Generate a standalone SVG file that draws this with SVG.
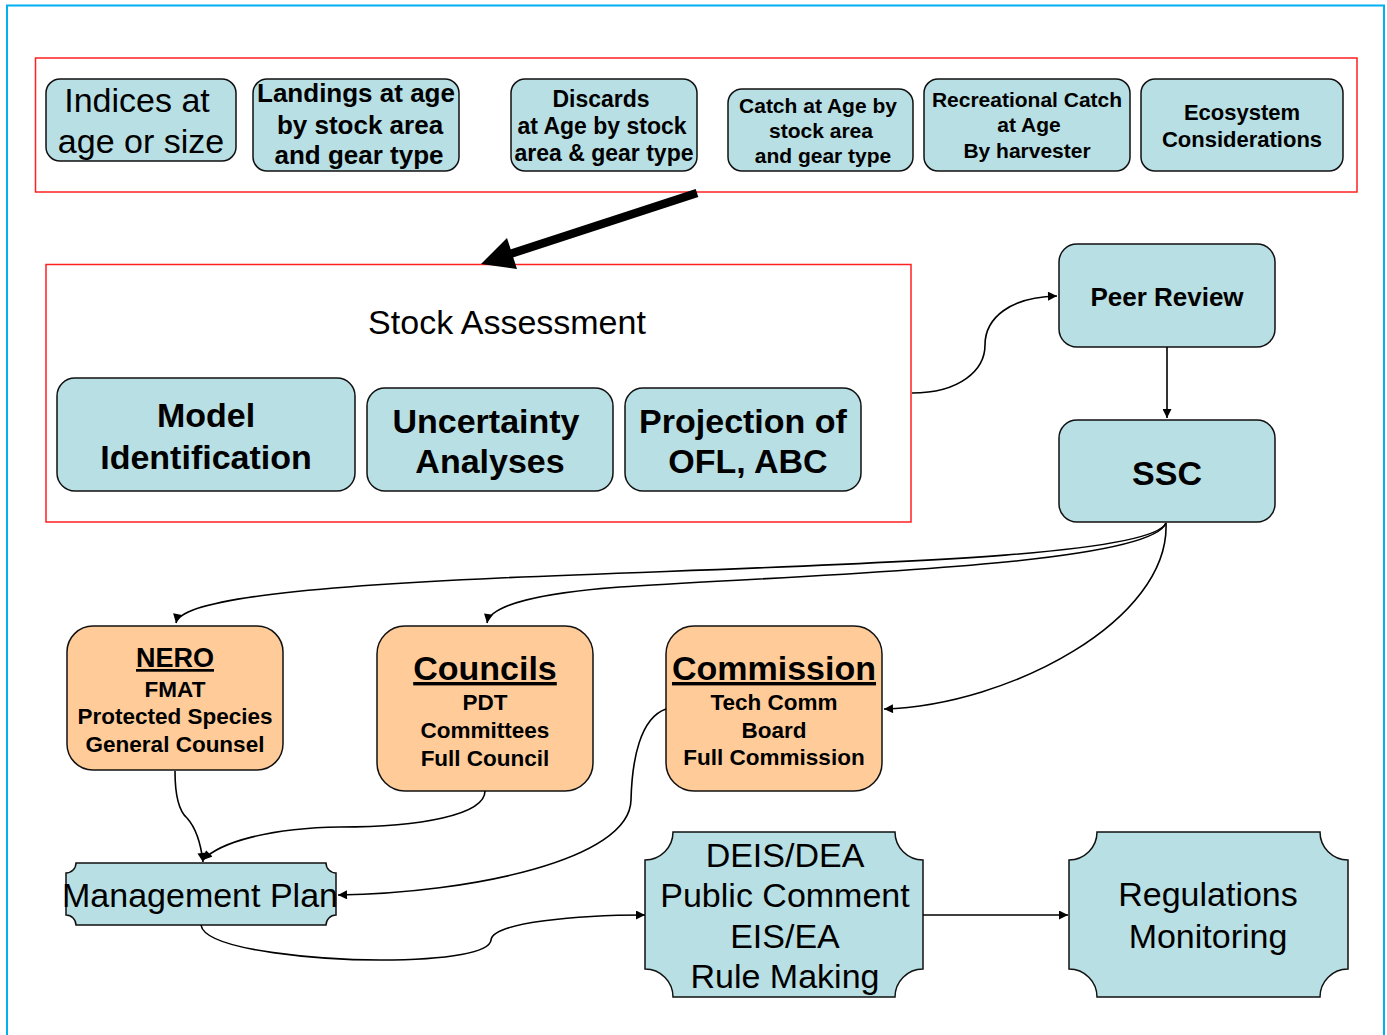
<svg xmlns="http://www.w3.org/2000/svg" width="1387" height="1035" viewBox="0 0 1387 1035">
<style>
.t{fill:#B8DFE3;stroke:#111;stroke-width:1.5}
.o{fill:#FFCC99;stroke:#111;stroke-width:1.5}
.red{fill:none;stroke:#FF2020;stroke-width:1.5}
text{font-family:"Liberation Sans",Arial,sans-serif;fill:#000;text-anchor:middle}
.b{font-weight:bold}
.c{fill:none;stroke:#000;stroke-width:1.6}
</style>
<defs>
<marker id="ah" viewBox="0 0 10 10" refX="10" refY="5" markerWidth="10" markerHeight="9" markerUnits="userSpaceOnUse" orient="auto">
<path d="M0,0 L10,5 L0,10 Z" fill="#000"/>
</marker>
</defs>
<rect x="0" y="0" width="1387" height="1035" fill="#fff"/>
<rect x="7" y="5.5" width="1377" height="1045" fill="none" stroke="#00B0F0" stroke-width="2"/>
<rect class="red" x="35.5" y="58" width="1321.5" height="134"/>
<rect class="red" x="46" y="264.5" width="865" height="257.5"/>
<text x="507" y="334" font-size="34">Stock Assessment</text>

<g id="indices"><rect class="t" x="46" y="79" width="190" height="82" rx="14"/>
<text x="137" y="112" font-size="34">Indices at</text><text x="141" y="153" font-size="34">age or size</text></g>
<g id="landings"><rect class="t" x="253" y="79" width="206" height="92" rx="14"/>
<text class="b" x="356" y="102" font-size="26">Landings at age</text><text class="b" x="360" y="134" font-size="26">by stock area</text><text class="b" x="359" y="164" font-size="26">and gear type</text></g>
<g id="discards"><rect class="t" x="511" y="79" width="186" height="92" rx="14"/>
<text class="b" x="601" y="107" font-size="23">Discards</text><text class="b" x="602" y="134" font-size="23">at Age by stock</text><text class="b" x="604" y="161" font-size="23">area &amp; gear type</text></g>
<g id="catch"><rect class="t" x="728" y="89" width="185" height="82" rx="14"/>
<text class="b" x="818" y="113" font-size="21">Catch at Age by</text><text class="b" x="821" y="138" font-size="21">stock area</text><text class="b" x="823" y="163" font-size="21">and gear type</text></g>
<g id="recreational"><rect class="t" x="924" y="79" width="206" height="92" rx="14"/>
<text class="b" x="1027" y="107" font-size="21">Recreational Catch</text><text class="b" x="1029" y="132" font-size="21">at Age</text><text class="b" x="1027" y="158" font-size="21">By harvester</text></g>
<g id="ecosystem"><rect class="t" x="1141" y="79" width="202" height="92" rx="14"/>
<text class="b" x="1242" y="120" font-size="22">Ecosystem</text><text class="b" x="1242" y="147" font-size="22">Considerations</text></g>

<g id="big-arrow"><line x1="697" y1="193" x2="510" y2="254" stroke="#000" stroke-width="8.5"/>
<polygon points="481,264 507,238 517,269" fill="#000"/></g>

<g id="model"><rect class="t" x="57" y="378" width="298" height="113" rx="18"/>
<text class="b" x="206" y="427" font-size="34">Model</text><text class="b" x="206" y="469" font-size="34">Identification</text></g>
<g id="uncertainty"><rect class="t" x="367" y="388" width="246" height="103" rx="18"/>
<text class="b" x="486" y="433" font-size="34">Uncertainty</text><text class="b" x="490" y="473" font-size="34">Analyses</text></g>
<g id="projection"><rect class="t" x="625" y="388" width="236" height="103" rx="18"/>
<text class="b" x="743" y="433" font-size="34">Projection of</text><text class="b" x="748" y="473" font-size="34">OFL, ABC</text></g>

<g id="peer"><rect class="t" x="1059" y="244" width="216" height="103" rx="18"/>
<text class="b" x="1167" y="306" font-size="26">Peer Review</text></g>
<g id="ssc"><rect class="t" x="1059" y="420" width="216" height="102" rx="18"/>
<text class="b" x="1167" y="485" font-size="34">SSC</text></g>

<g id="nero"><rect class="o" x="67" y="626" width="216" height="144" rx="26"/>
<text class="b" x="175" y="667" font-size="27" text-decoration="underline">NERO</text>
<text class="b" x="175" y="697" font-size="22.5">FMAT</text><text class="b" x="175" y="724" font-size="22.5">Protected Species</text><text class="b" x="175" y="752" font-size="22.5">General Counsel</text></g>
<g id="councils"><rect class="o" x="377" y="626" width="216" height="165" rx="28"/>
<text class="b" x="485" y="680" font-size="34" text-decoration="underline">Councils</text>
<text class="b" x="485" y="710" font-size="22.5">PDT</text><text class="b" x="485" y="738" font-size="22.5">Committees</text><text class="b" x="485" y="766" font-size="22.5">Full Council</text></g>
<g id="commission"><rect class="o" x="666" y="626" width="216" height="165" rx="28"/>
<text class="b" x="774" y="680" font-size="34" text-decoration="underline">Commission</text>
<text class="b" x="774" y="710" font-size="22.5">Tech Comm</text><text class="b" x="774" y="738" font-size="22.5">Board</text><text class="b" x="774" y="765" font-size="22.5">Full Commission</text></g>

<g id="mplan"><path class="t" d="M76,863 H326 A10,10 0 0 0 336,873 V915 A10,10 0 0 0 326,925 H76 A10,10 0 0 0 66,915 V873 A10,10 0 0 0 76,863 Z"/>
<text x="200" y="907" font-size="34">Management Plan</text></g>
<g id="deis"><path class="t" d="M673,832 H895 A28,28 0 0 0 923,860 V969 A28,28 0 0 0 895,997 H673 A28,28 0 0 0 645,969 V860 A28,28 0 0 0 673,832 Z"/>
<text x="785" y="867" font-size="34">DEIS/DEA</text><text x="785" y="907" font-size="34">Public Comment</text><text x="785" y="948" font-size="34">EIS/EA</text><text x="785" y="988" font-size="34">Rule Making</text></g>
<g id="regulations"><path class="t" d="M1097,832 H1320 A28,28 0 0 0 1348,860 V969 A28,28 0 0 0 1320,997 H1097 A28,28 0 0 0 1069,969 V860 A28,28 0 0 0 1097,832 Z"/>
<text x="1208" y="906" font-size="34">Regulations</text><text x="1208" y="948" font-size="34">Monitoring</text></g>

<g id="connectors">
<path class="c" d="M912,393 C960,393 985,370 985,345 C985,318 1010,297 1057,296" marker-end="url(#ah)"/>
<path class="c" d="M1167,347 V418" marker-end="url(#ah)"/>
<path class="c" d="M1166,523 C1150,560 800,565 500,578 C300,587 180,600 176,623" marker-end="url(#ah)"/>
<path class="c" d="M1166,523 C1150,566 800,575 620,587 C540,593 490,605 487,623" marker-end="url(#ah)"/>
<path class="c" d="M1166,523 C1170,620 1010,705 884,709" marker-end="url(#ah)"/>
<path class="c" d="M175,771 C175,800 180,812 187,818 C196,828 201,845 203,862" marker-end="url(#ah)"/>
<path class="c" d="M485,791 C485,815 420,827 340,827 C270,828 220,842 203,860" marker-end="url(#ah)"/>
<path class="c" d="M666,709 C640,718 632,760 631,800 C630,860 470,893 338,895" marker-end="url(#ah)"/>
<path class="c" d="M201,925 C205,952 330,960 380,960 C450,960 490,952 491,940 C493,922 580,915 645,915" marker-end="url(#ah)"/>
<path class="c" d="M923,915 H1068" marker-end="url(#ah)"/>
</g>
</svg>
